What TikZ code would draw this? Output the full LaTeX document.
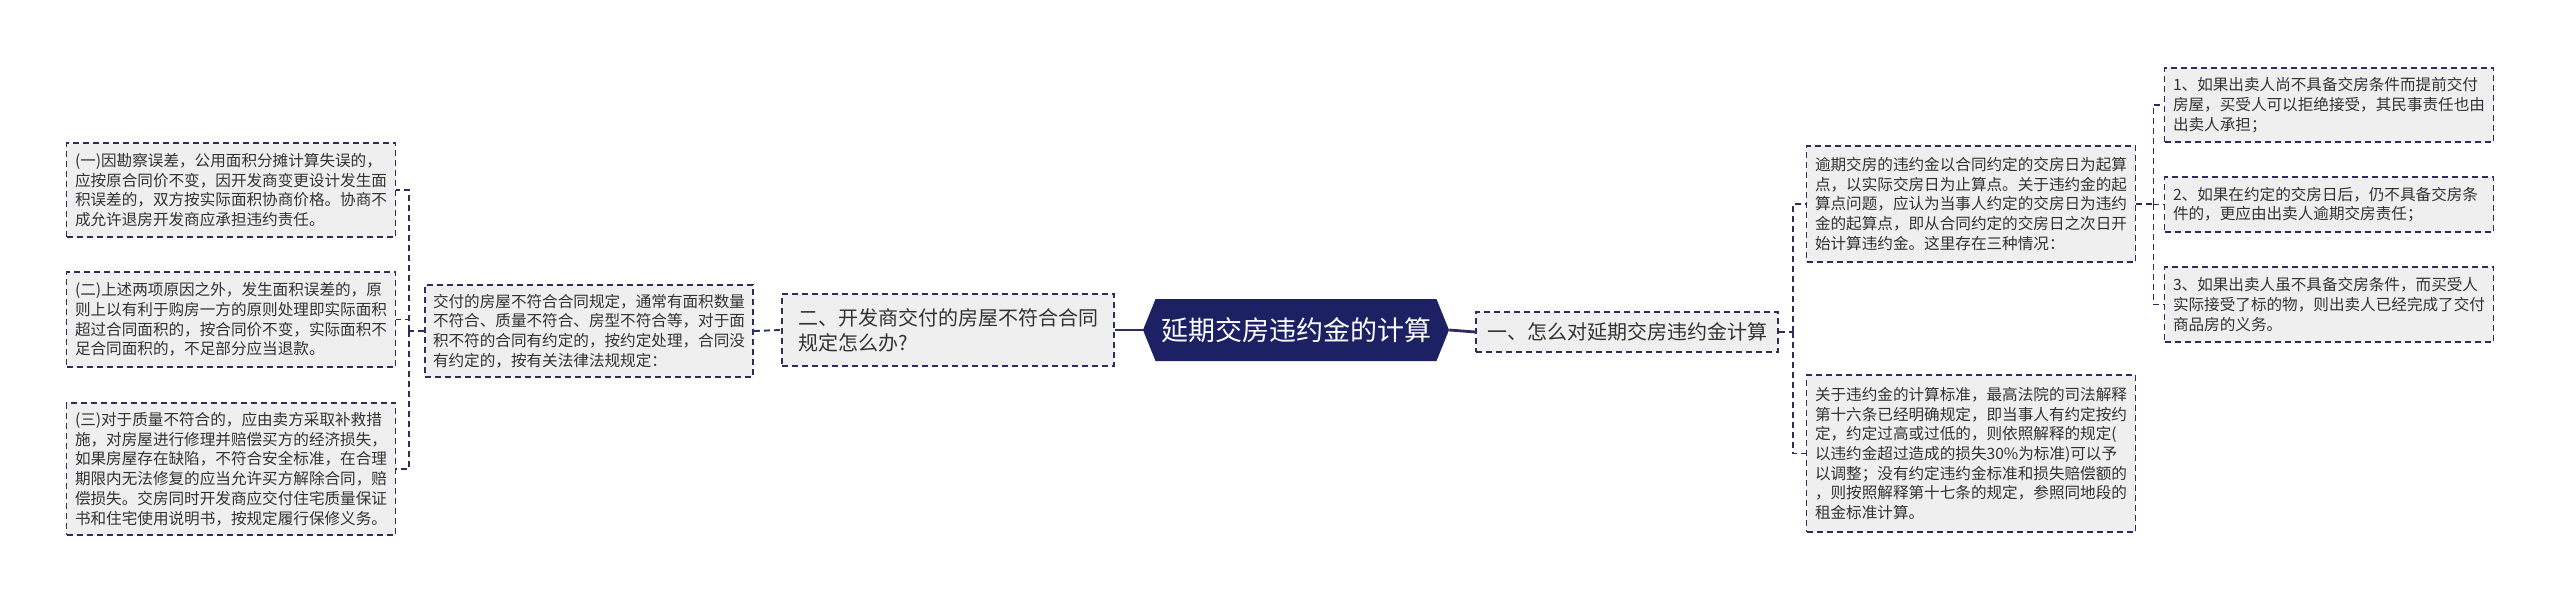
\documentclass[tikz,border=0pt]{standalone}
\usepackage{fontspec}
\newfontfamily\cjk{Noto Sans CJK SC}
\usepackage{tikz}
\usetikzlibrary{shapes.symbols}
\definecolor{navy}{HTML}{1B2163}
\definecolor{linec}{HTML}{2B2D5C}
\definecolor{boxc}{HTML}{EFEFEF}
\definecolor{txtc}{HTML}{333333}

\begin{document}
\begin{tikzpicture}[x=1pt, y=-1pt,
  box/.style={draw=linec, fill=boxc, line width=1.9pt, dash pattern=on 6pt off 4pt,
    text=txtc, align=left, text width=312pt, inner xsep=8.5pt, inner ysep=0pt,
    font=\cjk\fontsize{15.6}{19.7}\selectfont},
  midbox/.style={box, font=\cjk\fontsize{20}{25}\selectfont},
  root/.style={signal, signal to=east and west, signal pointer angle=136, fill=navy,
    text=white, minimum width=306pt, minimum height=62pt, inner sep=0pt,
    font=\cjk\fontsize{27}{30}\selectfont},
  link/.style={draw=linec, line width=1.9pt, dash pattern=on 6pt off 4pt},
  trunk/.style={draw=linec, line width=2.8pt}]
\fill[white] (0,0) rectangle (2560,604);
\useasboundingbox (0,0) rectangle (2560,604);

% centre
\node[root] (root) at (1296,330) {延期交房违约金的计算};

% left branch
\node[midbox, text width=300pt, inner xsep=16pt, minimum height=72pt] (two) at (948,330)
  {二、开发商交付的房屋不符合合同\\规定怎么办?};
\node[box, inner xsep=8pt, minimum height=92pt] (deliver) at (589,331)
  {交付的房屋不符合合同规定，通常有面积数量\\不符合、质量不符合、房型不符合等，对于面\\积不符的合同有约定的，按约定处理，合同没\\有约定的，按有关法律法规规定：};
\node[box, minimum height=94pt] (area) at (231,190)
  {(一)因勘察误差，公用面积分摊计算失误的，\\应按原合同价不变，因开发商变更设计发生面\\积误差的，双方按实际面积协商价格。协商不\\成允许退房开发商应承担违约责任。};
\node[box, minimum height=95pt] (other) at (231,319.5)
  {(二)上述两项原因之外，发生面积误差的，原\\则上以有利于购房一方的原则处理即实际面积\\超过合同面积的，按合同价不变，实际面积不\\足合同面积的，不足部分应当退款。};
\node[box, minimum height=132pt] (quality) at (231,469)
  {(三)对于质量不符合的，应由卖方采取补救措\\施，对房屋进行修理并赔偿买方的经济损失，\\如果房屋存在缺陷，不符合安全标准，在合理\\期限内无法修复的应当允许买方解除合同，赔\\偿损失。交房同时开发商应交付住宅质量保证\\书和住宅使用说明书，按规定履行保修义务。};

% right branch
\node[midbox, text width=280pt, inner xsep=11pt, minimum height=40pt] (one) at (1627,332)
  {一、怎么对延期交房违约金计算};
\node[box, minimum height=116pt] (start) at (1971,204)
  {逾期交房的违约金以合同约定的交房日为起算\\点，以实际交房日为止算点。关于违约金的起\\算点问题，应认为当事人约定的交房日为违约\\金的起算点，即从合同约定的交房日之次日开\\始计算违约金。这里存在三种情况：};
\node[box, minimum height=157pt] (rate) at (1971,453.5)
  {关于违约金的计算标准，最高法院的司法解释\\第十六条已经明确规定，即当事人有约定按约\\定，约定过高或过低的，则依照解释的规定(\\以违约金超过造成的损失30\%为标准)可以予\\以调整；没有约定违约金标准和损失赔偿额的\\，则按照解释第十七条的规定，参照同地段的\\租金标准计算。};
\node[box, minimum height=74pt] (caseA) at (2329,105)
  {1、如果出卖人尚不具备交房条件而提前交付\\房屋，买受人可以拒绝接受，其民事责任也由\\出卖人承担；};
\node[box, minimum height=55pt] (caseB) at (2329,204.5)
  {2、如果在约定的交房日后，仍不具备交房条\\件的，更应由出卖人逾期交房责任；};
\node[box, minimum height=75pt] (caseC) at (2329,304.5)
  {3、如果出卖人虽不具备交房条件，而买受人\\实际接受了标的物，则出卖人已经完成了交付\\商品房的义务。};

\draw[trunk] (two.east) -- (root.west);
\draw[trunk] (root.east) -- (one.west);
\draw[link] (deliver.east) -- (two.west);

\coordinate (lb) at ([xshift=-15pt]deliver.west);
\draw[link] (deliver.west) -- (lb);
\draw[link] (lb) |- (area.east);
\draw[link] (lb) |- (other.east);
\draw[link] (lb) |- (quality.east);

\coordinate (rb) at ([xshift=14pt]one.east);
\draw[link] (one.east) -- (rb);
\draw[link] (rb) |- (start.west);
\draw[link] (rb) |- (rate.west);

\coordinate (cb) at ([xshift=17pt]start.east);
\draw[link] (start.east) -- (cb);
\draw[link] (cb) |- (caseA.west);
\draw[link] (cb) |- (caseB.west);
\draw[link] (cb) |- (caseC.west);
\end{tikzpicture}
\end{document}
